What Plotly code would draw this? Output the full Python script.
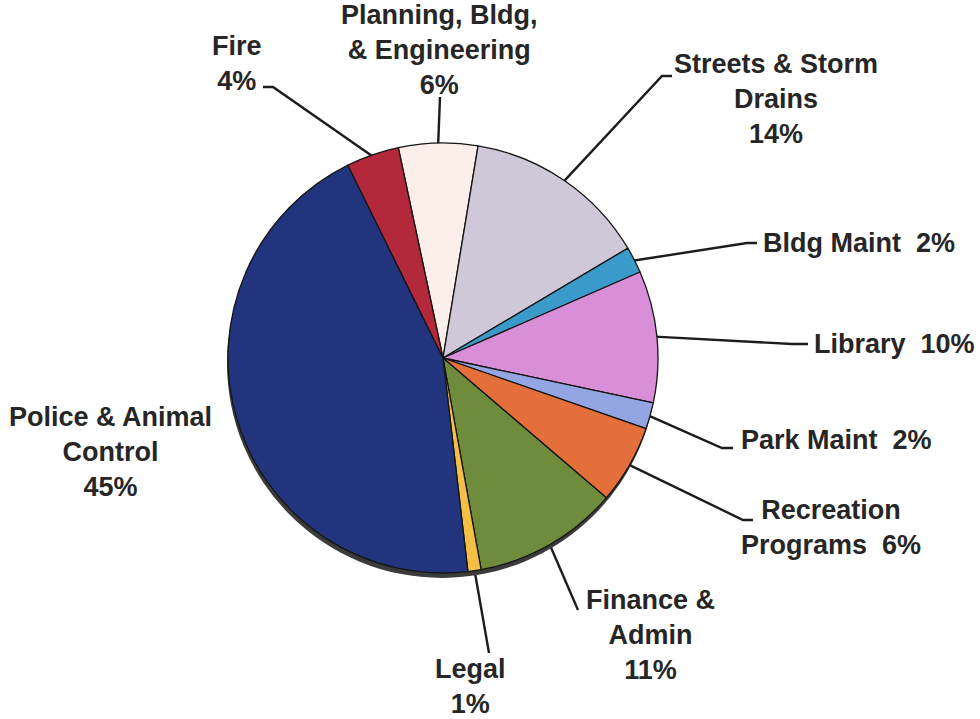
import math
import plotly.graph_objects as go

# ---------------- data ----------------
categories = ["Planning, Bldg, & Engineering", "Streets & Storm Drains", "Bldg Maint",
              "Library", "Park Maint", "Recreation Programs", "Finance & Admin",
              "Legal", "Police & Animal Control", "Fire"]
values = [6, 14, 2, 10, 2, 6, 11, 1, 45, 4]
label_text = ["Planning, Bldg,<br>& Engineering<br>6%",
              "Streets & Storm<br>Drains<br>14%",
              "Bldg Maint\u00a0 2%",
              "Library\u00a0 10%",
              "Park Maint\u00a0 2%",
              "Recreation<br>Programs\u00a0 6%",
              "Finance &<br>Admin<br>11%",
              "Legal<br>1%",
              "Police & Animal<br>Control<br>45%",
              "Fire<br>4%"]
colors = ["#FCEEE8", "#CFC8D8", "#3A9BCB", "#D98ED8", "#93A5E2",
          "#E56F3A", "#6F8C3C", "#F4BF45", "#23347F", "#B3283A"]

# ---------------- layout constants ----------------
W, H = 980, 719
CX, CY, R = 443, 358, 215
ROT = -12

# label positions: (x, y, xanchor) and leader-line tail points (elbow, end)
label_pos = [(439, 50, "center"), (776, 99, "center"), (761, 243, "left"),
             (812, 344, "left"), (739, 440, "left"), (831, 527, "center"),
             (650, 635, "center"), (470, 686, "center"), (110, 452, "center"),
             (237, 63, "center")]
leader_tail = [[(440, 97)],
               [(662, 76), (672, 76)],
               [(747, 243), (757, 243)],
               [(792, 344), (808, 344)],
               [(722, 448), (733, 448)],
               [(743, 520), (753, 520)],
               [(578, 610)],
               [(489, 653)],
               None,
               [(273, 87), (263, 87)]]

fig = go.Figure()

def dom(cx, cy, r):
    return dict(x=[(cx - r) / W, (cx + r) / W], y=[1 - (cy + r) / H, 1 - (cy - r) / H])

# shadow
fig.add_trace(go.Pie(values=[1], marker=dict(colors=["#3b3b3b"]), textinfo="none",
                     hoverinfo="skip", showlegend=False, sort=False,
                     domain=dom(CX - 1, CY + 5, R)))

fig.add_trace(go.Pie(labels=categories, values=values, sort=False, direction="clockwise",
                     rotation=ROT, textinfo="none", showlegend=False,
                     marker=dict(colors=colors, line=dict(color="#151515", width=1.3)),
                     domain=dom(CX, CY, R)))

# leader lines computed from slice mid-angles
total = sum(values)
cum = 0
for i, v in enumerate(values):
    mid = ROT + 360 * (cum + v / 2) / total
    cum += v
    if leader_tail[i] is None:
        continue
    a = math.radians(mid)
    px = CX + (R - 2) * math.sin(a)
    py = CY - (R - 2) * math.cos(a)
    xs = [px] + [p[0] for p in leader_tail[i]]
    ys = [py] + [p[1] for p in leader_tail[i]]
    fig.add_trace(go.Scatter(x=xs, y=ys, mode="lines", hoverinfo="skip", showlegend=False,
                             line=dict(color="#1c1c1c", width=2.4)))

for i, t in enumerate(label_text):
    x, y, xa = label_pos[i]
    fig.add_annotation(x=x, y=y, xref="x", yref="y", text=t, showarrow=False,
                       xanchor=xa, yanchor="middle", align="center",
                       font=dict(family="Liberation Sans, Arial, sans-serif", size=27,
                                 color="#262626", weight="bold"))

fig.update_layout(width=W, height=H, margin=dict(l=0, r=0, t=0, b=0),
                  paper_bgcolor="white", plot_bgcolor="rgba(0,0,0,0)",
                  xaxis=dict(range=[0, W], visible=False, fixedrange=True),
                  yaxis=dict(range=[H, 0], visible=False, fixedrange=True),
                  showlegend=False)

fig.write_html("out.html")
